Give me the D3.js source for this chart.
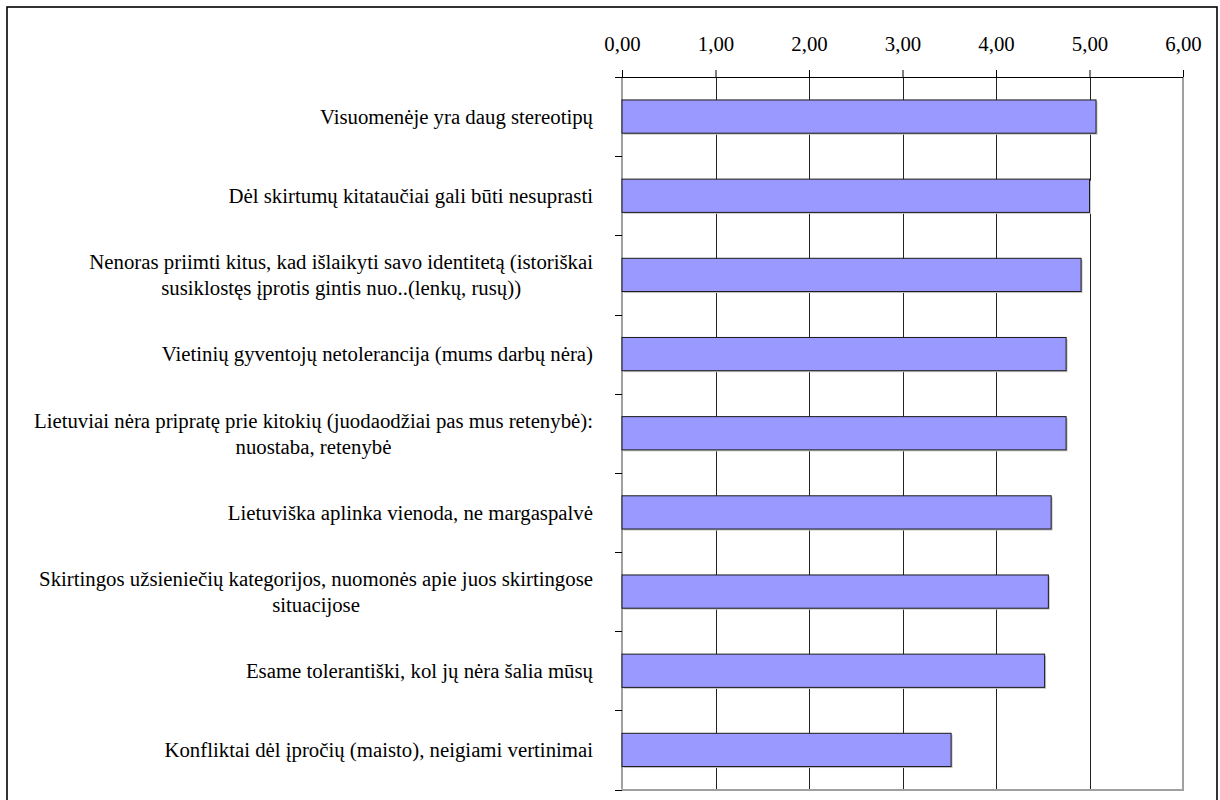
<!DOCTYPE html>
<html>
<head>
<meta charset="utf-8">
<script src="https://cdn.jsdelivr.net/npm/d3@7"></script>
<style>
  html, body { margin: 0; padding: 0; background: #fff; }
  svg { display: block; }
</style>
</head>
<body>
<svg id="chart" width="1220" height="800"></svg>
<script>
const categories = [
  ["Visuomenėje yra daug stereotipų"],
  ["Dėl skirtumų kitataučiai gali būti nesuprasti"],
  ["Nenoras priimti kitus, kad išlaikyti savo identitetą (istoriškai", "susiklostęs įprotis gintis nuo..(lenkų, rusų))"],
  ["Vietinių gyventojų netolerancija (mums darbų nėra)"],
  ["Lietuviai nėra pripratę prie kitokių (juodaodžiai pas mus retenybė):", "nuostaba, retenybė"],
  ["Lietuviška aplinka vienoda, ne margaspalvė"],
  ["Skirtingos užsieniečių kategorijos, nuomonės apie juos skirtingose", "situacijose"],
  ["Esame tolerantiški, kol jų nėra šalia mūsų"],
  ["Konfliktai dėl įpročių (maisto), neigiami vertinimai"]
];
const values = [5.07, 5.00, 4.91, 4.75, 4.75, 4.59, 4.56, 4.52, 3.52];
const tickValues = [0, 1, 2, 3, 4, 5, 6];
const tickLabels = ["0,00", "1,00", "2,00", "3,00", "4,00", "5,00", "6,00"];

(function () {
const svg = d3.select("#chart");
const pLeft = 622, pRight = 1183, pTop = 77, pBottom = 789.5;
const FONT = '"Liberation Serif"';
const FS = 20.8;

// outer border
svg.append("rect").attr("x", 7).attr("y", 7).attr("width", 1210).attr("height", 800)
  .attr("fill", "none").attr("stroke", "#000").attr("stroke-width", 1.6);

const x = d3.scaleLinear().domain([0, 6]).range([pLeft, pRight]);
const ids = categories.map((d, i) => i);
const y = d3.scaleBand().domain(ids).range([pTop, pBottom]).paddingInner(0.58).paddingOuter(0.29);
const yb = d3.scaleBand().domain(ids).range([pTop, pBottom]);

// gridlines
svg.append("g").selectAll("line").data(tickValues.slice(1, 6)).join("line")
  .attr("x1", d => Math.round(x(d)) + 0.5).attr("x2", d => Math.round(x(d)) + 0.5)
  .attr("y1", pTop).attr("y2", pBottom)
  .attr("stroke", "#222").attr("stroke-width", 1);

// plot frame (left, right, bottom) gray
svg.append("line").attr("x1", pLeft).attr("x2", pLeft).attr("y1", pTop).attr("y2", pBottom).attr("stroke", "#808080").attr("stroke-width", 1.5);
svg.append("line").attr("x1", pRight).attr("x2", pRight).attr("y1", pTop).attr("y2", pBottom).attr("stroke", "#808080").attr("stroke-width", 1.5);
svg.append("line").attr("x1", pLeft).attr("x2", pRight + 1).attr("y1", pBottom + 0.5).attr("y2", pBottom + 0.5).attr("stroke", "#a0a0a0").attr("stroke-width", 2);

// top axis
const xAxis = d3.axisTop(x).tickValues(tickValues).tickFormat((d, i) => tickLabels[i]).tickSize(7).tickPadding(19);
const gx = svg.append("g").attr("transform", `translate(0,${pTop})`).call(xAxis);
gx.select(".domain").attr("stroke", "#000").attr("d", `M${pLeft - 7},0.5H${pRight}`);
gx.selectAll(".tick line").attr("stroke", "#000");
gx.selectAll(".tick text").style("font-family", FONT).style("font-size", FS + "px").attr("fill", "#000");

// left category ticks at band boundaries
const bounds = ids.map(i => yb(i)).concat([pBottom]);
svg.append("g").selectAll("line").data(bounds).join("line")
  .attr("x1", pLeft - 7).attr("x2", pLeft).attr("y1", d => Math.round(d) + 0.5).attr("y2", d => Math.round(d) + 0.5)
  .attr("stroke", "#000").attr("stroke-width", 1);

// bars with shadow
const bars = svg.append("g");
bars.selectAll("rect.sh").data(values).join("rect").attr("class", "sh")
  .attr("x", x(0) + 1.5).attr("y", (d, i) => y(i) + 1.5)
  .attr("width", d => x(d) - x(0)).attr("height", y.bandwidth())
  .attr("fill", "#c8c8c8");
bars.selectAll("rect.bar").data(values).join("rect").attr("class", "bar")
  .attr("x", x(0)).attr("y", (d, i) => y(i))
  .attr("width", d => x(d) - x(0)).attr("height", y.bandwidth())
  .attr("fill", "#9999ff").attr("stroke", "#1a1a1a").attr("stroke-width", 1);

// category labels
const labelRight = 593;
const lineH = 26;
const lg = svg.append("g");
categories.forEach((lines, i) => {
  const cy = yb(i) + yb.bandwidth() / 2;
  const g = lg.append("g");
  const texts = lines.map((t, j) => g.append("text")
    .style("font-family", FONT).style("font-size", FS + "px")
    .attr("fill", "#000")
    .attr("y", cy + (j - (lines.length - 1) / 2) * lineH)
    .attr("dy", "0.35em")
    .attr("text-anchor", "middle")
    .text(t));
  const widths = texts.map(t => t.node().getComputedTextLength());
  const maxW = Math.max(...widths);
  const center = labelRight - maxW / 2;
  texts.forEach(t => t.attr("x", center));
});
})();
</script>
</body>
</html>
